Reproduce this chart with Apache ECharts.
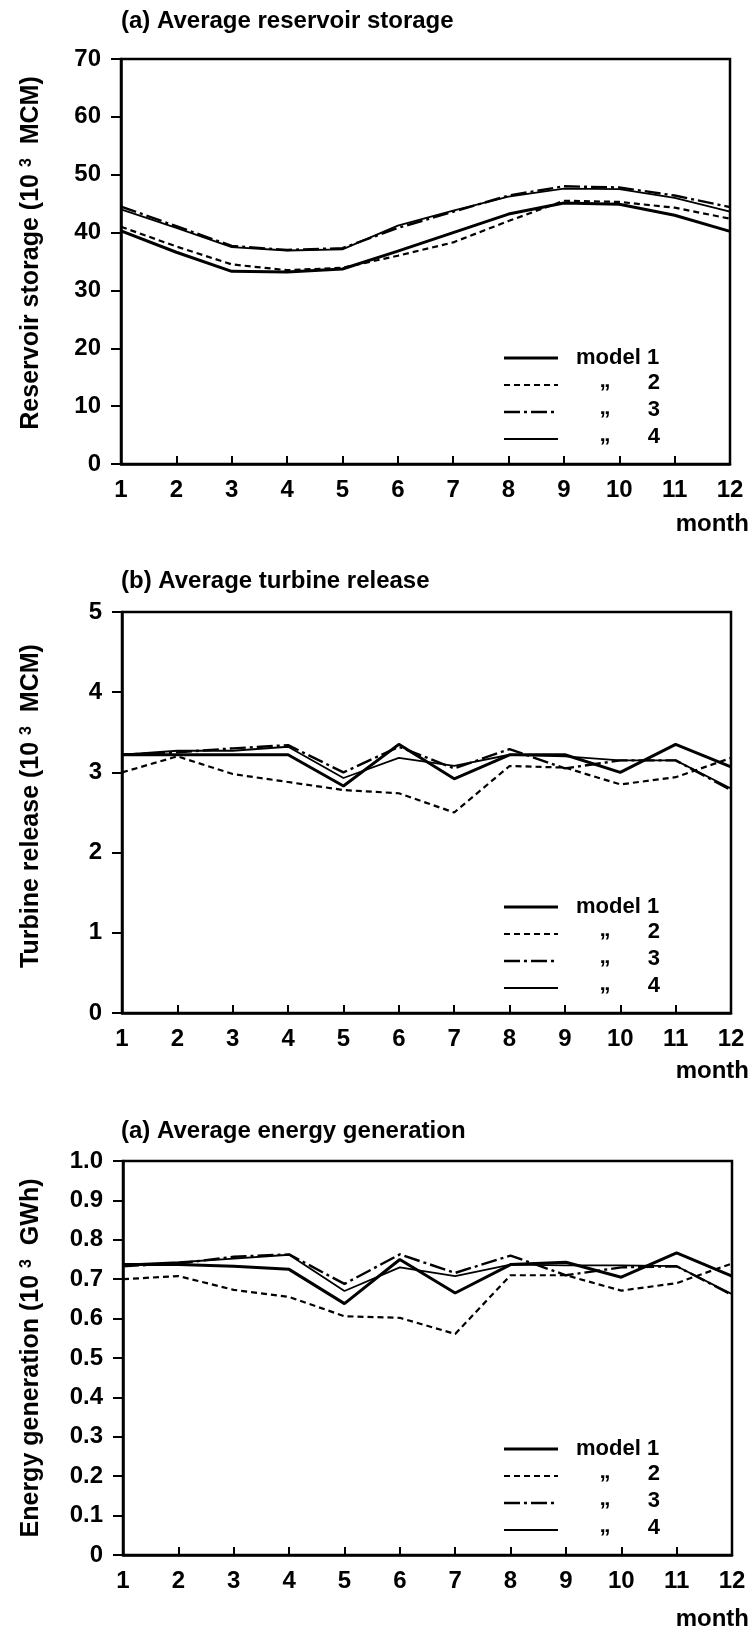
<!DOCTYPE html>
<html>
<head>
<meta charset="utf-8">
<title>Average reservoir storage, turbine release and energy generation</title>
<script src="https://cdn.jsdelivr.net/npm/echarts/dist/echarts.min.js"></script>
<style>
  html, body { margin: 0; padding: 0; background: #fff; }
  #main { width: 752px; height: 1645px; }
</style>
</head>
<body>
<div id="main"></div>
<script>
// x axis
var months = ['1', '2', '3', '4', '5', '6', '7', '8', '9', '10', '11', '12'];
var modelNames = ['model 1', 'model 2', 'model 3', 'model 4'];

// (a) average reservoir storage, 10^3 MCM
var storage1 = [40.3, 36.6, 33.3, 33.2, 33.7, 36.8, 40.0, 43.2, 45.1, 44.9, 43.0, 40.2];
var storage2 = [41.0, 37.6, 34.5, 33.5, 33.9, 36.0, 38.3, 42.0, 45.5, 45.3, 44.3, 42.4];
var storage3 = [44.5, 41.1, 37.7, 37.0, 37.3, 40.8, 43.6, 46.4, 48.0, 47.8, 46.4, 44.4];
var storage4 = [44.0, 40.8, 37.5, 36.9, 37.1, 41.2, 43.8, 46.2, 47.6, 47.5, 46.0, 43.6];

// (b) average turbine release, 10^3 MCM
var release1 = [3.22, 3.22, 3.22, 3.22, 2.83, 3.35, 2.92, 3.22, 3.22, 3.00, 3.35, 3.07];
var release2 = [3.00, 3.20, 2.98, 2.88, 2.78, 2.74, 2.50, 3.08, 3.06, 2.85, 2.94, 3.18];
var release3 = [3.22, 3.25, 3.30, 3.34, 3.00, 3.32, 3.05, 3.29, 3.05, 3.15, 3.15, 2.78];
var release4 = [3.22, 3.27, 3.27, 3.32, 2.93, 3.18, 3.08, 3.22, 3.20, 3.15, 3.15, 2.80];

// (a) average energy generation, 10^3 GWh
var energy1 = [0.737, 0.737, 0.733, 0.725, 0.638, 0.750, 0.665, 0.737, 0.743, 0.705, 0.767, 0.708];
var energy2 = [0.700, 0.708, 0.673, 0.655, 0.606, 0.602, 0.561, 0.710, 0.710, 0.671, 0.690, 0.740];
var energy3 = [0.733, 0.740, 0.757, 0.763, 0.688, 0.763, 0.716, 0.760, 0.710, 0.730, 0.733, 0.660];
var energy4 = [0.737, 0.743, 0.752, 0.762, 0.670, 0.730, 0.708, 0.737, 0.735, 0.735, 0.733, 0.662];

var font = '"Liberation Sans", Arial, sans-serif';
var lineStyles = [
    { type: 'solid', width: 3 },
    { type: [6, 4], width: 2.2 },
    { type: [16, 4, 3, 4], width: 2.4 },
    { type: 'solid', width: 1.8 }
];

var panels = [
    { title: '(a) Average reservoir storage', yName: 'Reservoir storage', unit: 'MCM',
      left: 121, top: 59, height: 405, max: 70, interval: 10,
      titleY: 21, nameY: 253, monthGap: 60,
      data: [storage1, storage2, storage3, storage4] },
    { title: '(b) Average turbine release', yName: 'Turbine release', unit: 'MCM',
      left: 122, top: 612, height: 401, max: 5, interval: 1,
      titleY: 581, nameY: 806, monthGap: 58,
      data: [release1, release2, release3, release4] },
    { title: '(a) Average energy generation', yName: 'Energy generation', unit: 'GWh',
      left: 123, top: 1161, height: 394, max: 1, interval: 0.1,
      titleY: 1131, nameY: 1358, monthGap: 64,
      fmt: function (v) { return v === 0 ? '0' : v.toFixed(1); },
      data: [energy1, energy2, energy3, energy4] }
];

var grids = [], xAxes = [], yAxes = [], series = [], graphics = [];

panels.forEach(function (p, k) {
    var bottomY = p.top + p.height;
    grids.push({ left: p.left, top: p.top, width: 609, height: p.height,
        show: true, borderColor: '#000', borderWidth: 2.5 });
    xAxes.push({
        gridIndex: k, type: 'category', data: months, boundaryGap: false,
        axisLine: { lineStyle: { color: '#000', width: 2.5 } },
        axisTick: { inside: true, length: 8, lineStyle: { color: '#000', width: 2 } },
        axisLabel: { color: '#000', fontSize: 24, fontWeight: 'bold', fontFamily: font, margin: 14, interval: 0 },
        splitLine: { show: false }
    });
    yAxes.push({
        gridIndex: k, type: 'value', min: 0, max: p.max, interval: p.interval,
        axisLine: { show: true, lineStyle: { color: '#000', width: 2.5 } },
        axisTick: { show: true, inside: false, length: 10, lineStyle: { color: '#000', width: 2 } },
        axisLabel: { color: '#000', fontSize: 24, fontWeight: 'bold', fontFamily: font, margin: 20, formatter: p.fmt },
        splitLine: { show: false }
    });
    p.data.forEach(function (vals, i) {
        series.push({
            name: modelNames[i], type: 'line', xAxisIndex: k, yAxisIndex: k,
            data: vals, symbol: 'none', silent: true, z: 10 - i,
            lineStyle: { color: '#000', width: lineStyles[i].width, type: lineStyles[i].type }
        });
    });

    // title, y name, "month"
    graphics.push({ type: 'text', x: 121, y: p.titleY, style: {
        text: p.title, font: 'bold 24px ' + font, fill: '#000', align: 'left', verticalAlign: 'middle' } });
    graphics.push({ type: 'text', x: 31, y: p.nameY, rotation: Math.PI / 2, style: {
        text: p.yName + ' (10 {s|3}  ' + p.unit + ')', font: 'bold 25px ' + font, fill: '#000',
        align: 'center', verticalAlign: 'middle',
        rich: { s: { fontSize: 16, fontWeight: 'bold', fontFamily: font, verticalAlign: 'top', lineHeight: 16, padding: [0, 0, 10, 0] } } } });
    graphics.push({ type: 'text', x: 749, y: bottomY + p.monthGap, style: {
        text: 'month', font: 'bold 24px ' + font, fill: '#000', align: 'right', verticalAlign: 'middle' } });

    // legend block (line samples with ditto marks)
    for (var i = 0; i < 4; i++) {
        var ry = bottomY - 25 - (3 - i) * 27;
        var ls = lineStyles[i];
        graphics.push({ type: 'line', shape: { x1: 504, y1: ry, x2: 558, y2: ry },
            style: { stroke: '#000', lineWidth: ls.width, lineDash: ls.type === 'solid' ? null : ls.type } });
        if (i === 0) {
            graphics.push({ type: 'text', x: 576, y: ry, style: { text: 'model 1', font: 'bold 22px ' + font,
                fill: '#000', align: 'left', verticalAlign: 'middle' } });
        } else {
            graphics.push({ type: 'text', x: 605, y: ry - 4, style: { text: '\u201E', font: 'bold 22px ' + font,
                fill: '#000', align: 'center', verticalAlign: 'middle' } });
            graphics.push({ type: 'text', x: 660, y: ry - 2, style: { text: String(i + 1), font: 'bold 22px ' + font,
                fill: '#000', align: 'right', verticalAlign: 'middle' } });
        }
    }
});

var myChart = echarts.init(document.getElementById('main'));
var option = {
    backgroundColor: '#fff',
    animation: false,
    grid: grids,
    xAxis: xAxes,
    yAxis: yAxes,
    series: series,
    graphic: graphics
};
myChart.setOption(option);
</script>
</body>
</html>
